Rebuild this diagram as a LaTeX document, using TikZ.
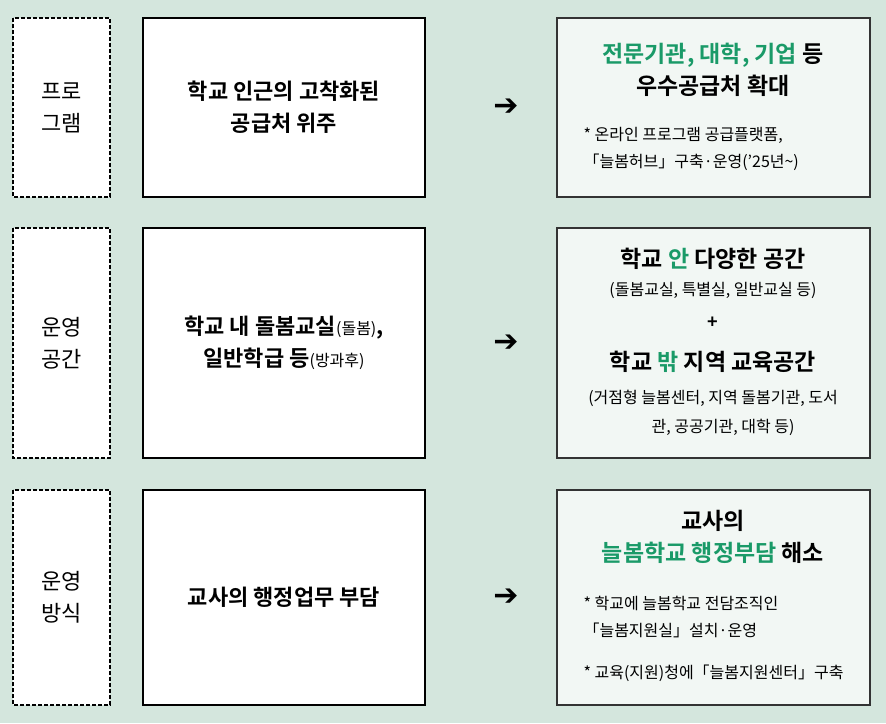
\documentclass[tikz,border=0pt]{standalone}
\usepackage{fontspec}
\setmainfont{Noto Sans CJK KR}
\newfontfamily\bfk{Noto Sans CJK KR Bold}
\newfontfamily\djv{DejaVu Sans Bold}
\definecolor{bgc}{HTML}{D4E6DD}
\definecolor{grn}{HTML}{1A9A68}
\definecolor{rfill}{HTML}{F2F7F4}
\begin{document}
\begin{tikzpicture}[x=1pt,y=-1pt,
  lbox/.style={draw=black,dash pattern=on 4pt off 2pt,line width=1.2pt,fill=white},
  mbox/.style={draw=black,line width=1.2pt,fill=white},
  rbox/.style={draw=black!80,line width=1.2pt,fill=rfill},
  big/.style={font=\bfk\fontsize{23}{32}\selectfont,align=center},
  mid/.style={font=\bfk\fontsize{22}{32}\selectfont,align=center},
  sm/.style={font=\fontsize{16}{27}\selectfont,align=left},
  lab/.style={font=\fontsize{22}{32}\selectfont,align=center},
  arr/.style={font=\djv\fontsize{30}{30}\selectfont}]
\fill[bgc] (0,0) rectangle (886,723);
% row 1
\draw[lbox] (13,18) rectangle (110,197);
\node[lab] (l1) at (61.5,107.5) {프로\\그램};
\draw[mbox] (143,18) rectangle (425,197);
\node[mid] (m1) at (284,107.5) {학교 인근의 고착화된\\공급처 위주};
\node[arr] (a1) at (506,107) {➔};
\draw[rbox] (557,18) rectangle (870,197);
\node[big] (r1) at (713,70) {\textcolor{grn}{전문기관, 대학, 기업} 등\\우수공급처 확대};
\node[sm,anchor=west] (r1s) at (580,149) {* 온라인 프로그램 공급플랫폼,\\「늘봄허브」구축·운영(’25년\textasciitilde)};
% row 2
\draw[lbox] (13,228) rectangle (110,458);
\node[lab] (l2) at (61.5,343) {운영\\공간};
\draw[mbox] (143,228) rectangle (425,458);
\node[mid] (m2) at (284,343) {학교 내 돌봄교실{\normalfont\fontsize{16}{20}\selectfont(돌봄)},\\일반학급 등{\normalfont\fontsize{16}{20}\selectfont(방과후)}};
\node[arr] (a2) at (506,343) {➔};
\draw[rbox] (557,228) rectangle (870,458);
\node[big] (r2a) at (713,259) {학교 \textcolor{grn}{안} 다양한 공간};
\node[font=\fontsize{16}{20}\selectfont] (r2b) at (713,290) {(돌봄교실, 특별실, 일반교실 등)};
\node[font=\bfk\fontsize{18}{20}\selectfont] (r2c) at (713,323) {+};
\node[big] (r2d) at (713,362) {학교 \textcolor{grn}{밖} 지역 교육공간};
\node[font=\fontsize{16}{29}\selectfont,align=right] (r2e) at (713,413) {(거점형 늘봄센터, 지역 돌봄기관, 도서\\관, 공공기관, 대학 등)\hspace*{2.7em}};
% row 3
\draw[lbox] (13,490) rectangle (110,705);
\node[lab] (l3) at (61.5,597) {운영\\방식};
\draw[mbox] (143,490) rectangle (425,705);
\node[mid] (m3) at (284,597) {교사의 행정업무 부담};
\node[arr] (a3) at (506,597) {➔};
\draw[rbox] (557,490) rectangle (870,705);
\node[big] (r3) at (713,537) {교사의\\\textcolor{grn}{늘봄학교 행정부담} 해소};
\node[sm,anchor=west] (r3s) at (580,617) {* 학교에 늘봄학교 전담조직인\\「늘봄지원실」설치·운영};
\node[sm,anchor=west] (r3t) at (580,673) {* 교육(지원)청에「늘봄지원센터」구축};
\end{tikzpicture}
\end{document}
